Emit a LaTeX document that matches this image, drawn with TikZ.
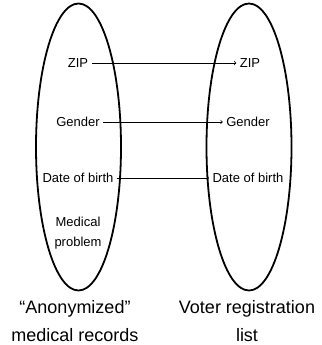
\documentclass[tikz,border=0pt]{standalone}
\usepackage{fontspec}
\setmainfont{Liberation Sans}
\usetikzlibrary{shapes.geometric}
\begin{document}
\begin{tikzpicture}[x=1pt,y=-1pt,
  every node/.style={font=\fontsize{13}{20}\selectfont,align=center},
  bag/.style={ellipse,draw,line width=1.8pt,minimum width=85pt,minimum height=287pt,inner sep=0pt},
  title/.style={font=\fontsize{18}{28}\selectfont},
  link/.style={->,line width=0.7pt}]
\useasboundingbox (0,0) rectangle (321,345);
         \node[bag] (left) at (78.5,147) {};
         \node[bag] (right) at (249,147) {};
         \node (zipL) at (78,63) {ZIP};           \node (zipR) at (250,63) {ZIP};
         \node (genderL) at (78,122) {Gender};     \node (genderR) at (248,122) {Gender};
         \node (dobL) at (78,178) {Date of birth}; \node (dobR) at (248,178) {Date of birth};
         \node (medL) at (78,233) {Medical\\problem};
         \node[title] (recL) at (75,321) {“Anonymized”\\medical records};
         \node[title] (listR) at (247,321) {Voter registration\\list};
         \draw[link] (zipL) -- (zipR);
         \draw[link] (genderL) -- (genderR);
         \draw[link] (dobL) -- (dobR);
\end{tikzpicture}
\end{document}
